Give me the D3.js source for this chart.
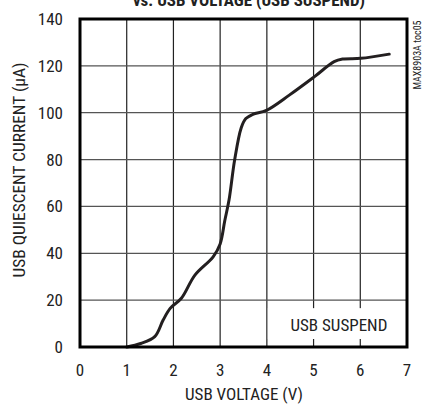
<!DOCTYPE html>
<html><head><meta charset="utf-8">
<script src="https://cdn.jsdelivr.net/npm/d3@7"></script>
<style>
html,body{margin:0;padding:0;background:#fff;}
svg{display:block;font-family:"Liberation Sans Narrow","Roboto Condensed","Arial Narrow",sans-serif;}
</style></head>
<body>
<svg id="c" width="431" height="404"></svg>
<script>
const titleLines = ["USB QUIESCENT CURRENT", "vs. USB VOLTAGE (USB SUSPEND)"];
const xLabel = "USB VOLTAGE (V)";
const yLabel = "USB QUIESCENT CURRENT (\u00b5A)";
const legendText = "USB SUSPEND";
const noteText = "MAX8903A toc05";
const xTicks = [0,1,2,3,4,5,6,7];
const yTicks = [0,20,40,60,80,100,120,140];
const voltage = [1.0,1.3,1.6,1.78,1.93,2.17,2.46,2.85,3.0,3.1,3.19,3.31,3.45,3.55,3.7,3.99,4.48,5.02,5.44,5.62,6.01,6.62];
const current = [0,1.5,4.4,11.5,16.5,20.8,30.7,38.5,44,54,62.7,79.8,93.5,97.5,99.3,101,107.5,115.4,121.8,122.9,123.2,125];

const svg = d3.select("#c");
const L=80, R=407, T=19, B=347;
const x = d3.scaleLinear().domain([0,7]).range([L,R]);
const y = d3.scaleLinear().domain([0,140]).range([B,T]);

// grid
svg.append("g").selectAll("line").data(xTicks.slice(1,-1)).join("line")
  .attr("x1",d=>x(d)).attr("x2",d=>x(d)).attr("y1",T).attr("y2",B)
  .attr("stroke","#222").attr("stroke-width",1.2);
svg.append("g").selectAll("line").data(yTicks.slice(1,-1)).join("line")
  .attr("x1",L).attr("x2",R).attr("y1",d=>y(d)).attr("y2",d=>y(d))
  .attr("stroke","#555").attr("stroke-width",1.2);

// legend box (white area covering grid)
svg.append("rect").attr("x",x(4)+1).attr("y",y(20)+8).attr("width",R-x(4)-2).attr("height",(y(0)-y(20))-16).attr("fill","#fff");
svg.append("text").attr("x",(x(4)+R)/2+2).attr("y",y(10)+7).attr("text-anchor","middle")
  .attr("font-size",17).attr("fill","#222").text(legendText);

// curve
const line = d3.line().x((d,i)=>x(voltage[i])).y((d,i)=>y(current[i])).curve(d3.curveCatmullRom.alpha(0.5));
svg.append("path").datum(current).attr("d",line).attr("fill","none")
  .attr("stroke","#231f20").attr("stroke-width",3).attr("stroke-linejoin","round").attr("stroke-linecap","round");

// frame
svg.append("rect").attr("x",L).attr("y",T).attr("width",R-L).attr("height",B-T)
  .attr("fill","none").attr("stroke","#000").attr("stroke-width",3);

// tick labels
svg.append("g").selectAll("text").data(yTicks).join("text")
  .attr("x",L-17).attr("y",d=>y(d)+6).attr("text-anchor","end")
  .attr("font-size",17).attr("fill","#222").text(d=>d);
svg.append("g").selectAll("text").data(xTicks).join("text")
  .attr("x",d=>x(d)).attr("y",B+29).attr("text-anchor","middle")
  .attr("font-size",17).attr("fill","#222").text(d=>d);

// axis labels
svg.append("text").attr("x",244).attr("y",400).attr("text-anchor","middle")
  .attr("font-size",17).attr("fill","#222")
  .attr("textLength",118).attr("lengthAdjust","spacingAndGlyphs").text(xLabel);
svg.append("text").attr("transform",`translate(25,170) rotate(-90)`).attr("text-anchor","middle")
  .attr("font-size",17).attr("fill","#222")
  .attr("textLength",215).attr("lengthAdjust","spacingAndGlyphs").text(yLabel);

// title (cropped at top, as in the reference)
svg.append("text").attr("x",249).attr("y",-15).attr("text-anchor","middle")
  .attr("font-size",17).attr("font-weight","bold").attr("fill","#222").text(titleLines[0]);
svg.append("text").attr("x",249).attr("y",6).attr("text-anchor","middle")
  .attr("font-size",17).attr("font-weight","bold").attr("fill","#222")
  .attr("textLength",232).attr("lengthAdjust","spacingAndGlyphs").text(titleLines[1]);

// note
svg.append("text").attr("transform","translate(421,55) rotate(-90)").attr("text-anchor","middle")
  .attr("font-size",10).attr("fill","#222").text(noteText);
</script>
</body></html>
